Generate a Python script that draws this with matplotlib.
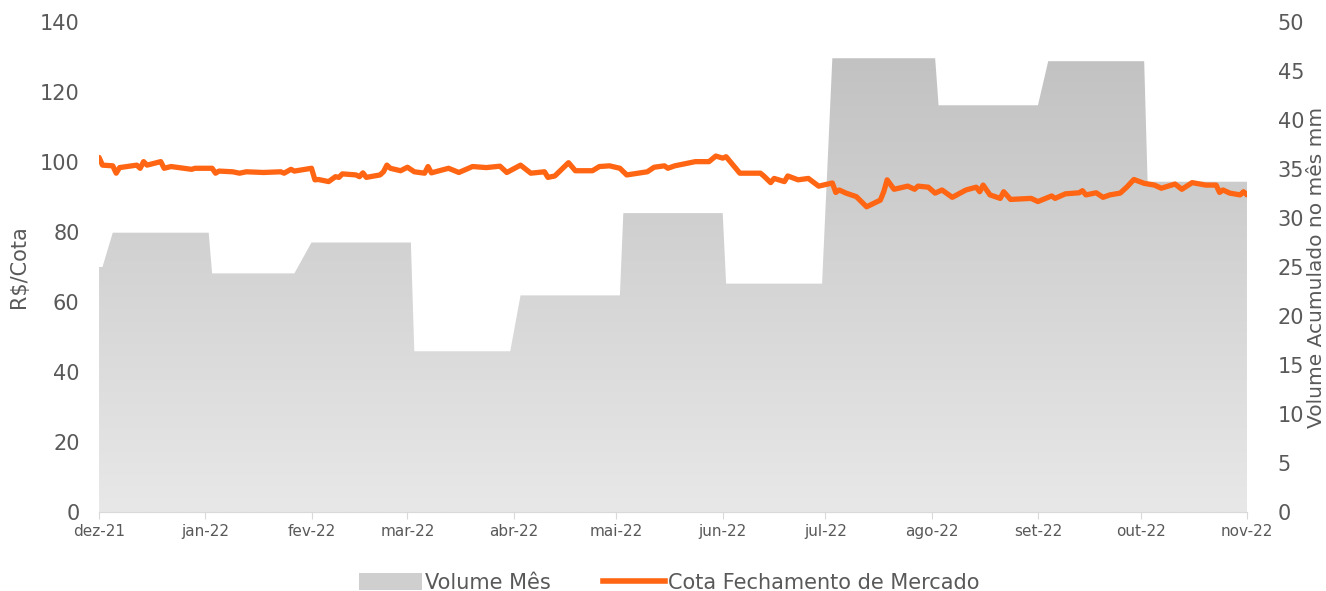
import numpy as np
import pandas as pd
import matplotlib
matplotlib.use("Agg")
import matplotlib.pyplot as plt
import matplotlib.dates as mdates
from matplotlib.colors import LinearSegmentedColormap
from matplotlib.lines import Line2D
from matplotlib.patches import Patch

# dados
inicio = pd.Timestamp("2021-12-01")

vol_datas = ["2021-12-01", "2021-12-02", "2021-12-05", "2022-01-02", "2022-01-03",
             "2022-01-27", "2022-02-01", "2022-03-02", "2022-03-03", "2022-03-31",
             "2022-04-03", "2022-05-02", "2022-05-03", "2022-06-01", "2022-06-02",
             "2022-06-30", "2022-07-03", "2022-08-02", "2022-08-03", "2022-09-01",
             "2022-09-04", "2022-10-02", "2022-10-03", "2022-11-01"]
vol_mes = [25.0, 25.0, 28.5, 28.5, 24.35,
           24.35, 27.5, 27.5, 16.4, 16.4,
           22.1, 22.1, 30.5, 30.5, 23.3,
           23.3, 46.3, 46.3, 41.5, 41.5,
           46.0, 46.0, 33.7, 33.7]

# dias desde 01/12/2021
cota_dias = [0, 1, 4, 5, 6, 11, 12, 13, 14, 18, 19, 21, 27, 28, 33, 34, 35, 39, 41, 43,
             48, 53, 54, 56, 57, 62, 63, 64, 67, 69, 70, 71, 75, 76, 77, 78, 82, 83, 84, 85,
             88, 90, 92, 95, 96, 97, 102, 105, 109, 113, 117, 119, 123, 126, 130, 131, 133, 137, 139, 144,
             146, 149, 152, 154, 160, 162, 165, 166, 168, 174, 178, 180, 182, 183, 187, 193, 194, 196, 197, 200,
             201, 204, 207, 210, 214, 215, 216, 218, 221, 224, 228, 229, 230, 232, 236, 238, 239, 242, 244, 246,
             249, 253, 256, 257, 258, 260, 263, 264, 266, 272, 274, 278, 279, 282, 286, 287, 288, 291, 293, 295,
             298, 300, 302, 305, 308, 310, 314, 316, 319, 323, 326, 327, 328, 330, 333, 334, 335]
cota = [101.3, 99.1, 98.9, 96.8, 98.4, 99.1, 98.2, 100.1, 99.1, 100.1, 98.2, 98.7, 97.9, 98.2, 98.2, 96.8, 97.4, 97.2, 96.8, 97.2,
        97.0, 97.2, 96.8, 97.9, 97.4, 98.2, 94.9, 95.0, 94.4, 95.8, 95.6, 96.6, 96.3, 95.8, 96.9, 95.6, 96.3, 97.2, 99.1, 98.2,
        97.5, 98.5, 97.2, 96.8, 98.7, 96.9, 98.2, 97.0, 98.7, 98.4, 98.8, 97.0, 99.1, 96.8, 97.2, 95.6, 96.0, 99.8, 97.5, 97.5,
        98.7, 98.9, 98.2, 96.3, 97.2, 98.5, 98.9, 98.2, 98.9, 100.1, 100.1, 101.7, 101.1, 101.5, 96.8, 96.8, 96.0, 94.1, 95.3, 94.4,
        96.0, 94.9, 95.3, 93.1, 94.0, 91.3, 92.0, 91.1, 90.1, 87.2, 89.1, 91.5, 94.9, 92.2, 93.1, 92.2, 93.1, 92.8, 91.1, 92.0,
        89.9, 92.0, 92.8, 91.5, 93.4, 90.6, 89.6, 91.5, 89.3, 89.6, 88.7, 90.3, 89.6, 90.9, 91.2, 91.8, 90.6, 91.2, 89.9, 90.6,
        91.1, 92.9, 95.0, 93.9, 93.4, 92.5, 93.7, 92.2, 94.1, 93.4, 93.4, 91.3, 92.0, 91.1, 90.6, 91.5, 90.6]

meses = ["dez-21", "jan-22", "fev-22", "mar-22", "abr-22", "mai-22", "jun-22",
         "jul-22", "ago-22", "set-22", "out-22", "nov-22"]

vol_x = mdates.date2num(pd.to_datetime(vol_datas))
cota_x = mdates.date2num(inicio + pd.to_timedelta(cota_dias, unit="D"))
meses_x = mdates.date2num(pd.date_range("2021-12-01", periods=len(meses), freq="MS"))

cinza = "#595959"
laranja = "#FF6512"

fig = plt.figure(figsize=(13.26, 5.91), dpi=100)
ax = fig.add_axes([0.0747, 0.1337, 0.8657, 0.8291])
ax2 = ax.twinx()
ax.set_zorder(ax2.get_zorder() + 1)
ax.patch.set_visible(False)

# area do volume com gradiente
x0, x1 = meses_x[0], meses_x[-1]
area = ax2.fill_between(vol_x, 0, vol_mes, color="none", lw=0)
cmap = LinearSegmentedColormap.from_list("g", ["#e8e8e8", "#bfbfbf"])
grad = np.linspace(0, 1, 256).reshape(-1, 1)
img = ax2.imshow(grad, cmap=cmap, aspect="auto", origin="lower",
                 extent=[x0, x1, 0, 50], interpolation="bilinear")
img.set_clip_path(area.get_paths()[0], transform=ax2.transData)

ax.plot(cota_x, cota, color=laranja, lw=3.8, solid_joinstyle="round", solid_capstyle="round")

ax.set_xlim(x0, x1)
ax.set_ylim(0, 140)
ax2.set_ylim(0, 50)
ax.set_yticks(range(0, 141, 20))
ax2.set_yticks(range(0, 51, 5))
ax.set_xticks(meses_x)
ax.set_xticklabels(meses)

for a in (ax, ax2):
    for s in ["top", "left", "right"]:
        a.spines[s].set_visible(False)
    a.spines["bottom"].set_color("#d9d9d9")
ax.tick_params(axis="x", colors="#d9d9d9", labelcolor=cinza, labelsize=11, length=5, pad=4)
ax.tick_params(axis="y", length=0, labelsize=15, labelcolor=cinza, pad=14)
ax2.tick_params(axis="y", length=0, labelsize=15, labelcolor=cinza, pad=22)

ax.set_ylabel("R$/Cota", fontsize=15, color=cinza, labelpad=8)
ax2.set_ylabel("Volume Acumulado no mês mm", fontsize=14.5, color=cinza, labelpad=2)

handles = [Patch(facecolor="#cfcfcf", edgecolor="none"),
           Line2D([], [], color=laranja, lw=4)]
fig.legend(handles, ["Volume Mês", "Cota Fechamento de Mercado"], loc="lower center",
           bbox_to_anchor=(0.505, -0.035), ncol=2, frameon=False, fontsize=15,
           handlelength=3.0, handleheight=0.9, handletextpad=0.15, columnspacing=2.5,
           labelcolor=cinza)

fig.savefig("out.png", dpi=100)
